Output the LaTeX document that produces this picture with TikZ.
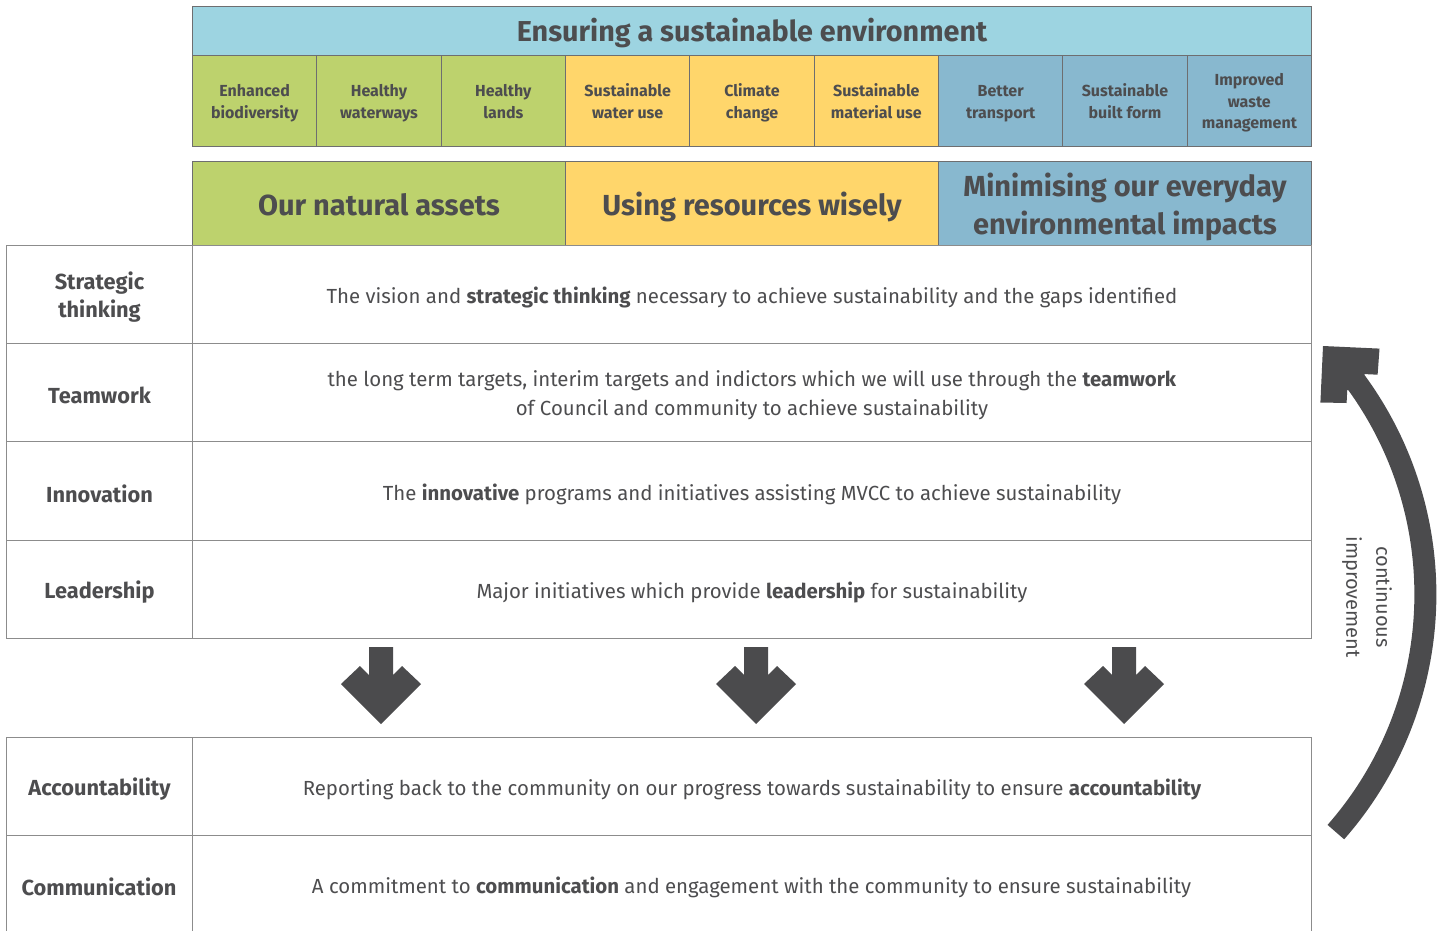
\documentclass[tikz,border=0pt]{standalone}
\usepackage{fontspec}
\setmainfont{Fira Sans}
\usetikzlibrary{calc}
\definecolor{hdrblue}{HTML}{9DD4E1}
\definecolor{grn}{HTML}{BDD26D}
\definecolor{ylw}{HTML}{FFD66B}
\definecolor{stl}{HTML}{88B8CF}
\definecolor{txt}{HTML}{4D4D4F}
\definecolor{bord}{HTML}{8C8C8C}
\definecolor{sbord}{HTML}{6E6E70}
\definecolor{arr}{HTML}{4B4B4D}
\begin{document}
\begin{tikzpicture}[x=1pt,y=-1pt,
  every node/.style={text=txt},
  box/.style={rectangle, anchor=north west, inner sep=0pt, align=center},
  topbox/.style={box, draw=sbord, line width=1pt},
  smallbox/.style={topbox, minimum width=124.33pt, minimum height=91pt,
     font=\bfseries\fontsize{16}{21.5}\selectfont},
  catbox/.style={topbox, minimum width=373pt, minimum height=84pt,
     font=\bfseries\fontsize{29}{38}\selectfont},
  cell/.style={box, draw=bord, line width=1pt},
  leftcell/.style={cell, minimum width=186pt},
  rightcell/.style={cell, minimum width=1119pt},
  lefttext/.style={font=\bfseries\fontsize{21.8}{28}\selectfont, align=center, inner sep=0pt, yshift=-3pt},
  righttext/.style={font=\fontsize{20.4}{29}\selectfont, align=center, inner sep=0pt, yshift=-3pt},
  pics/bigdown/.style={code={
     \fill[arr] (-12,-77) -- (12,-77) -- (12,-49) -- (21,-58) -- (40,-40)
       -- (0,0) -- (-40,-40) -- (-21,-58) -- (-12,-49) -- cycle;}}
]
\useasboundingbox (0,0) rectangle (1440,931);

% header
\node[topbox, fill=hdrblue, minimum width=1119pt, minimum height=49pt] (hdr) at (192,6) {};
\node[font=\bfseries\fontsize{28.8}{30}\selectfont, inner sep=0pt, yshift=-2pt] (hdrt) at (hdr.center)
  {Ensuring a sustainable environment};

% small boxes
\node[smallbox, fill=grn] (s1) at (192,55) {};
\node[smallbox, fill=grn] (s2) at (316.33,55) {};
\node[smallbox, fill=grn] (s3) at (440.67,55) {};
\node[smallbox, fill=ylw] (s4) at (565,55) {};
\node[smallbox, fill=ylw] (s5) at (689.33,55) {};
\node[smallbox, fill=ylw] (s6) at (813.67,55) {};
\node[smallbox, fill=stl] (s7) at (938,55) {};
\node[smallbox, fill=stl] (s8) at (1062.33,55) {};
\node[smallbox, fill=stl] (s9) at (1186.67,55) {};
\tikzset{stext/.style={font=\bfseries\fontsize{16}{21.5}\selectfont, align=center, inner sep=0pt, yshift=-2pt}}
\node[stext] (s1t) at (s1.center) {\strut Enhanced\\biodiversity\strut};
\node[stext] (s2t) at (s2.center) {\strut Healthy\\waterways\strut};
\node[stext] (s3t) at (s3.center) {\strut Healthy\\lands\strut};
\node[stext] (s4t) at (s4.center) {\strut Sustainable\\water use\strut};
\node[stext] (s5t) at (s5.center) {\strut Climate\\change\strut};
\node[stext] (s6t) at (s6.center) {\strut Sustainable\\material use\strut};
\node[stext] (s7t) at (s7.center) {\strut Better\\transport\strut};
\node[stext] (s8t) at (s8.center) {\strut Sustainable\\built form\strut};
\node[stext] (s9t) at (s9.center) {\strut Improved\\waste\\management\strut};

% category boxes
\node[catbox, fill=grn] (c1) at (192,161) {};
\node[catbox, fill=ylw] (c2) at (565,161) {};
\node[catbox, fill=stl] (c3) at (938,161) {};
\tikzset{ctext/.style={font=\bfseries\fontsize{29}{38}\selectfont, align=center, inner sep=0pt, yshift=-4pt}}
\node[ctext] (c1t) at (c1.center) {\strut Our natural assets\strut};
\node[ctext] (c2t) at (c2.center) {\strut Using resources wisely\strut};
\node[ctext] (c3t) at (c3.center) {\strut Minimising our everyday\\environmental impacts\strut};

% table
\node[leftcell, minimum height=98pt] (l1) at (6,245) {};
\node[rightcell, minimum height=98pt] (r1) at (192,245) {};
\node[leftcell, minimum height=98pt] (l2) at (6,343) {};
\node[rightcell, minimum height=98pt] (r2) at (192,343) {};
\node[leftcell, minimum height=99pt] (l3) at (6,441) {};
\node[rightcell, minimum height=99pt] (r3) at (192,441) {};
\node[leftcell, minimum height=98pt] (l4) at (6,540) {};
\node[rightcell, minimum height=98pt] (r4) at (192,540) {};
\node[lefttext] (l1t) at (l1.center) {Strategic\\thinking};
\node[righttext] (r1t) at (r1.center)
  {The vision and \textbf{strategic thinking} necessary to achieve sustainability and the gaps identified};
\node[lefttext] (l2t) at (l2.center) {Teamwork};
\node[righttext] (r2t) at (r2.center)
  {the long term targets, interim targets and indictors which we will use through the \textbf{teamwork}\\of Council and community to achieve sustainability};
\node[lefttext] (l3t) at (l3.center) {Innovation};
\node[righttext] (r3t) at (r3.center)
  {The \textbf{innovative} programs and initiatives assisting MVCC to achieve sustainability};
\node[lefttext] (l4t) at (l4.center) {Leadership};
\node[righttext] (r4t) at (r4.center)
  {Major initiatives which provide \textbf{leadership} for sustainability};

% down arrows
\coordinate (d1) at (381,724);
\coordinate (d2) at (756,724);
\coordinate (d3) at (1124,724);
\pic at (d1) {bigdown};
\pic at (d2) {bigdown};
\pic at (d3) {bigdown};

% bottom table
\node[leftcell, minimum height=98pt] (l5) at (6,737) {};
\node[rightcell, minimum height=98pt] (r5) at (192,737) {};
\node[leftcell, minimum height=110pt] (l6) at (6,835) {};
\node[rightcell, minimum height=110pt] (r6) at (192,835) {};
\node[lefttext] (l5t) at (l5.center) {Accountability};
\node[righttext] (r5t) at (r5.center)
  {Reporting back to the community on our progress towards sustainability to ensure \textbf{accountability}};
\node[lefttext] (l6t) at (99,884) {Communication};
\node[righttext] (r6t) at (751.5,884)
  {A commitment to \textbf{communication} and engagement with the community to ensure sustainability};

% continuous improvement arrow
\coordinate (cc) at (1065.4,594.5);
\draw[arr, line width=22pt] ($(cc)+(41.3:360)$) arc[start angle=41.3, end angle=-36.5, radius=360];
\coordinate (tip) at (1323,346);
\fill[arr] (tip) -- (1379.5,348.6) -- (1377.6,374.7) -- (1364.9,374.1)
  -- (1347.2,390.3) -- (1346.6,403.0) -- (1320.4,402.5) -- cycle;
\node[rotate=-90, align=center, font=\fontsize{20}{30}\selectfont] (ci) at (1367,597)
  {continuous\\improvement};
\end{tikzpicture}
\end{document}
